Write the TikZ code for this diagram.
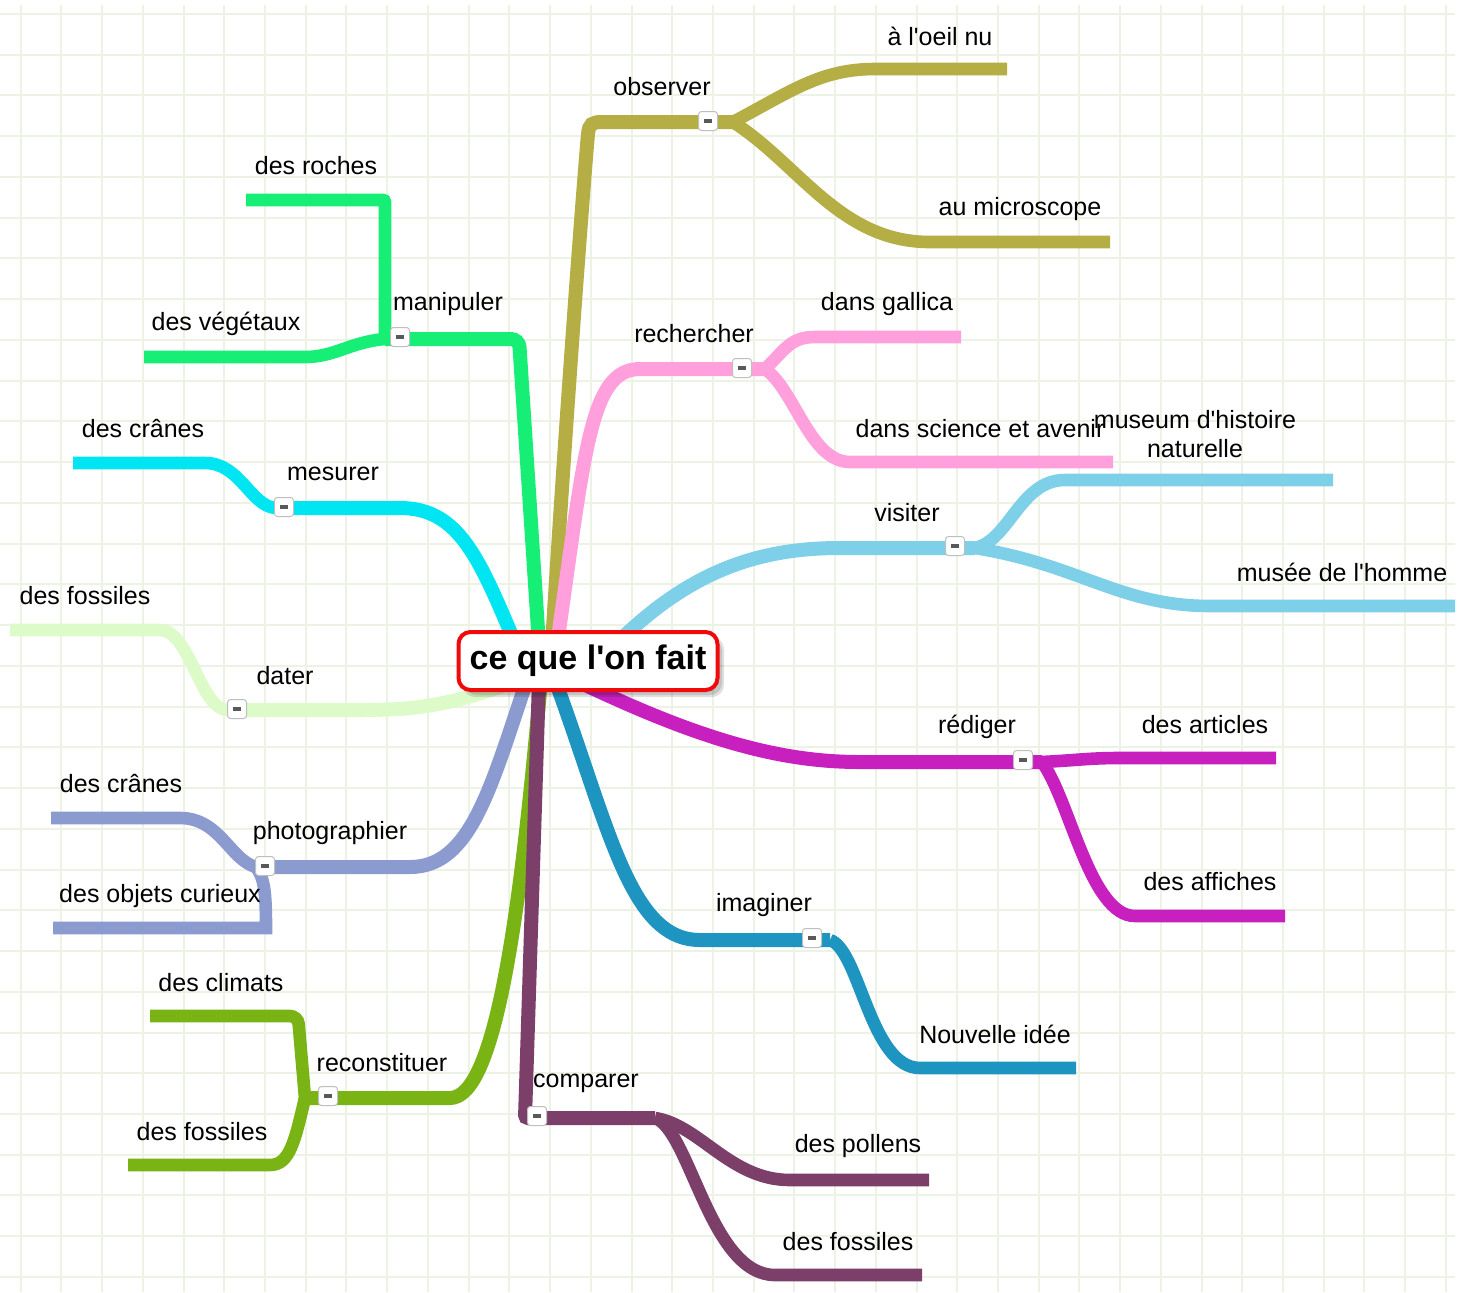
\documentclass[tikz,border=0pt]{standalone}
\usepackage{fontspec}
\setmainfont{Liberation Sans}
\definecolor{mmOlive}{HTML}{B4AE45}
\definecolor{mmPink}{HTML}{FF9FDC}
\definecolor{mmGreen}{HTML}{17EE76}
\definecolor{mmCyan}{HTML}{00E5F2}
\definecolor{mmPale}{HTML}{DDFBC8}
\definecolor{mmPeri}{HTML}{8B9BCF}
\definecolor{mmLime}{HTML}{79B414}
\definecolor{mmPlum}{HTML}{7B3F6A}
\definecolor{mmTeal}{HTML}{1E94C0}
\definecolor{mmMagenta}{HTML}{C820BE}
\definecolor{mmSky}{HTML}{7ECFE8}
\definecolor{mmGrid}{HTML}{ECF2E4}
\definecolor{mmRed}{HTML}{F00A0A}
\pgfdeclarelayer{paper}
\pgfdeclarelayer{branch}
\pgfsetlayers{paper,branch,main}
\tikzset{
  rootbox/.style={rounded corners=6pt, draw=mmRed, line width=2pt, fill=white,
              minimum width=129.5pt, minimum height=29pt, inner sep=0pt,
              font=\fontsize{17}{20}\selectfont\bfseries},
  rootshade/.style={rounded corners=6pt, fill=black, fill opacity=0.12},
  topic/.style={font=\fontsize{12.5}{14.5}\selectfont, inner sep=0pt, align=center},
  toggle/.style={rounded corners=1.5pt, draw=black!25, fill=white, line width=0.5pt,
              minimum width=9.5pt, minimum height=9.5pt, inner sep=0pt},
  trunk/.style={line width=7pt},
  twig/.style={line width=6.3pt},
  gridline/.style={draw=mmGrid, line width=1pt},
}
\newcommand{\minus}{{\color{black!65}\rule{4.2pt}{1.6pt}}}
\newcommand{\apos}{\textquotesingle}

\begin{document}
\begin{tikzpicture}[x=0.5pt,y=-0.5pt]
  \useasboundingbox (0,0) rectangle (1462,1292);
  % squared paper
  \begin{pgfonlayer}{paper}
    \fill[white] (0,0) rectangle (1462,1292);
    \foreach \k in {0,...,35}{\draw[gridline] (20.7+40.72*\k,5) -- (20.7+40.72*\k,1292);}
    \foreach \k in {0,...,31}{\draw[gridline] (0,14+40.74*\k) -- (1455,14+40.74*\k);}
  \end{pgfonlayer}

  % central topic
  \fill[rootshade] (463,637) rectangle (724,697);
  \fill[rootshade] (465,639) rectangle (722,695);
  \node[rootbox] (root) at (588,661) {ce que l\apos on fait};

  % junctions of the main branches
  \coordinate (jObs) at (733,122);
  \coordinate (jRec) at (765,369);
  \coordinate (jMan) at (385,339);
  \coordinate (jMes) at (275,508);
  \coordinate (jDat) at (228,710);
  \coordinate (jPho) at (256,867);
  \coordinate (jRcn) at (305,1098);
  \coordinate (jCmp) at (655,1118);
  \coordinate (jIma) at (830,940);
  \coordinate (jRed) at (1042,762);
  \coordinate (jVis) at (975,548);

  \begin{pgfonlayer}{branch}
    % observer
    \draw[trunk,mmOlive] (552,645) .. controls (565,430) and (583,190) .. (588,134)
          .. controls (589,124) and (592,122) .. (602,122) -- (jObs);
    \draw[twig,mmOlive] (jObs) .. controls (790,92) and (820,69) .. (875,69) -- (1007,69);
    \draw[twig,mmOlive] (jObs) .. controls (800,165) and (840,242) .. (930,242) -- (1110,242);
    % rechercher
    \draw[trunk,mmPink] (557,645) .. controls (585,450) and (590,369) .. (640,369) -- (jRec);
    \draw[twig,mmPink] (jRec) .. controls (785,350) and (790,337) .. (815,337) -- (961,337);
    \draw[twig,mmPink] (jRec) .. controls (795,390) and (810,462) .. (850,462) -- (1113,462);
    % manipuler
    \draw[trunk,mmGreen,rounded corners=4pt] (539,645) -- (519,339) -- (jMan);
    \draw[twig,mmGreen,rounded corners=1pt] (jMan) -- (385,200) -- (246,200);
    \draw[twig,mmGreen] (jMan) .. controls (350,342) and (335,357) .. (305,357) -- (144,357);
    % mesurer
    \draw[trunk,mmCyan] (518,650) .. controls (480,560) and (460,508) .. (400,508) -- (jMes);
    \draw[twig,mmCyan] (jMes) .. controls (250,505) and (240,463) .. (205,463) -- (73,463);
    % dater
    \draw[trunk,mmPale] (520,680) .. controls (450,705) and (420,710) .. (360,710) -- (jDat);
    \draw[twig,mmPale] (jDat) .. controls (200,710) and (190,630) .. (160,630) -- (10,630);
    % photographier
    \draw[trunk,mmPeri] (527,680) .. controls (490,790) and (470,867) .. (410,867) -- (jPho);
    \draw[twig,mmPeri] (jPho) .. controls (230,860) and (220,818) .. (180,818) -- (51,818);
    \draw[twig,mmPeri] (jPho) .. controls (264,878) and (266,890) .. (266,928) -- (53,928);
    % reconstituer
    \draw[trunk,mmLime] (541,680) .. controls (520,920) and (495,1098) .. (450,1098) -- (jRcn);
    \draw[twig,mmLime,rounded corners=4pt] (jRcn) -- (298,1016) -- (150,1016);
    \draw[twig,mmLime] (jRcn) .. controls (295,1140) and (290,1165) .. (270,1165) -- (128,1165);
    % comparer
    \draw[trunk,mmPlum,rounded corners=1.5pt] (539,680) -- (525,1118) -- (jCmp);
    \draw[twig,mmPlum] (jCmp) .. controls (700,1125) and (730,1180) .. (790,1180) -- (929,1180);
    \draw[twig,mmPlum] (jCmp) .. controls (690,1130) and (710,1275) .. (775,1275) -- (922,1275);
    % imaginer
    \draw[trunk,mmTeal] (555,680) .. controls (610,830) and (630,940) .. (700,940) -- (jIma);
    \draw[twig,mmTeal] (jIma) .. controls (860,950) and (870,1068) .. (920,1068) -- (1076,1068);
    % rediger
    \draw[trunk,mmMagenta] (575,680) .. controls (700,740) and (780,762) .. (860,762) -- (jRed);
    \draw[twig,mmMagenta] (jRed) .. controls (1080,760) and (1090,758) .. (1120,758) -- (1276,758);
    \draw[twig,mmMagenta] (jRed) .. controls (1070,800) and (1090,916) .. (1135,916) -- (1285,916);
    % visiter
    \draw[trunk,mmSky] (615,645) .. controls (690,570) and (760,548) .. (840,548) -- (jVis);
    \draw[twig,mmSky] (jVis) .. controls (1010,540) and (1020,480) .. (1065,480) -- (1333,480);
    \draw[twig,mmSky] (jVis) .. controls (1080,565) and (1120,606) .. (1210,606) -- (1455,606);
  \end{pgfonlayer}

  % collapse buttons
  \foreach \n/\x/\y in {Obs/708/121, Rec/742/368, Man/400/337, Mes/284/507, Dat/237/709,
                        Pho/265/866, Rcn/328/1096, Cmp/537/1116, Ima/812/938, Red/1023/760,
                        Vis/955/546}{
    \node[toggle] (t\n) at (\x,\y) {\minus};}

  % main topics
  \node[topic] (obs) at (662,87) {observer};
  \node[topic] (rec) at (694,334) {rechercher};
  \node[topic] (man) at (448,304) {manipuler};
  \node[topic] (mes) at (333,474) {mesurer};
  \node[topic] (dat) at (285,676) {dater};
  \node[topic] (pho) at (330,833) {photographier};
  \node[topic] (rcn) at (382,1063) {reconstituer};
  \node[topic] (cmp) at (586,1083) {comparer};
  \node[topic] (ima) at (764,905) {imaginer};
  \node[topic] (red) at (977,727) {rédiger};
  \node[topic] (vis) at (907,513) {visiter};

  % sub topics
  \node[topic] (oeil) at (940,36) {à l\apos oeil nu};
  \node[topic] (micro) at (1020,209) {au microscope};
  \node[topic] (gall) at (887,304) {dans gallica};
  \node[topic] (sciav) at (980,429) {dans science et avenir};
  \node[topic] (roch) at (316,166) {des roches};
  \node[topic] (veg) at (226,324) {des végétaux};
  \node[topic] (cran1) at (143,429) {des crânes};
  \node[topic] (foss1) at (85,596) {des fossiles};
  \node[topic] (cran2) at (121,784) {des crânes};
  \node[topic] (obj) at (160,896) {des objets curieux};
  \node[topic] (clim) at (221,983) {des climats};
  \node[topic] (foss2) at (202,1132) {des fossiles};
  \node[topic] (poll) at (858,1146) {des pollens};
  \node[topic] (foss3) at (848,1242) {des fossiles};
  \node[topic] (idee) at (995,1034) {Nouvelle idée};
  \node[topic] (art) at (1205,725) {des articles};
  \node[topic] (aff) at (1210,882) {des affiches};
  \node[topic] (mnhn) at (1195,434) {museum d\apos histoire\\naturelle};
  \node[topic] (homme) at (1342,572) {musée de l\apos homme};
\end{tikzpicture}
\end{document}
